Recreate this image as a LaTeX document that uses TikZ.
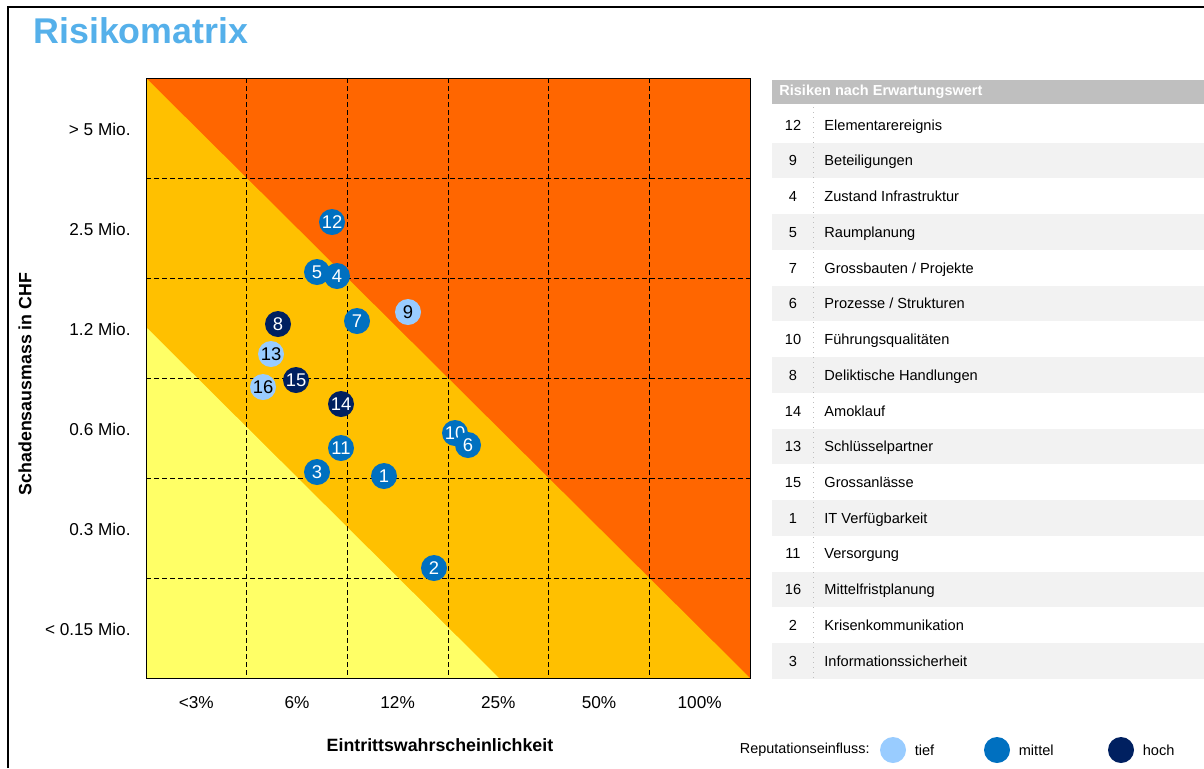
\documentclass[tikz,border=0pt]{standalone}
\usepackage{fontspec}
\setmainfont{Liberation Sans}
\usepackage{tikz}
\usetikzlibrary{positioning}

\definecolor{titleblue}{RGB}{85,176,234}
\definecolor{zonered}{RGB}{255,102,0}
\definecolor{zoneamber}{RGB}{255,192,0}
\definecolor{zoneyellow}{RGB}{255,255,102}
\definecolor{tiefblue}{RGB}{153,204,255}
\definecolor{mittelblue}{RGB}{0,112,192}
\definecolor{hochblue}{RGB}{0,32,96}
\definecolor{headgray}{RGB}{191,191,191}
\definecolor{rowgray}{RGB}{242,242,242}
\definecolor{sepgray}{RGB}{190,190,190}

\begin{document}
\begin{tikzpicture}[x=0.5pt, y=-0.5pt,
    bub/.style={circle, minimum size=13pt, inner sep=0pt, font=\fontsize{9.2}{10}\selectfont},
    tief/.style={bub, fill=tiefblue, text=black},
    mittel/.style={bub, fill=mittelblue, text=white},
    hoch/.style={bub, fill=hochblue, text=white},
    ticklabel/.style={inner sep=0pt, font=\fontsize{8.6}{10}\selectfont},
    axtitle/.style={inner sep=0pt, font=\bfseries\fontsize{8.9}{10}\selectfont},
    cell/.style={inner sep=0pt, font=\fontsize{7.3}{9}\selectfont},
    gridline/.style={dash pattern=on 2.5pt off 1.5pt, line width=0.5pt},
    ]
   \useasboundingbox (0,0) rectangle (1204,768);

   % Frame and title
   \draw[line width=1pt] (8,768) -- (8,6.5) -- (1204,6.5);
   \node[anchor=base west, inner sep=0pt, text=titleblue, font=\bfseries\fontsize{17.9}{20}\selectfont] (title) at (33,43) {Risikomatrix};

   % Matrix zones
   \fill[zonered] (146,78) rectangle (750,678);
   \fill[zoneamber] (146,78) -- (750,678) -- (146,678) -- cycle;
   \fill[zoneyellow] (146,327) -- (499,678) -- (146,678) -- cycle;
   \foreach \k in {1,...,5} {
      \draw[gridline] ({146+100.67*\k},78) -- ({146+100.67*\k},678);
      \draw[gridline] (146,{78+100*\k}) -- (750,{78+100*\k});
   }
   \draw[line width=0.5pt] (146,78) rectangle (750,678);

   % Axes
   \foreach \lab [count=\i from 0] in {{> 5 Mio.}, 2.5 Mio., 1.2 Mio., 0.6 Mio., 0.3 Mio., {< 0.15 Mio.}}
      \node[ticklabel, anchor=east] (y\i) at (131,{129+100*\i}) {\lab};
   \foreach \lab [count=\i from 0] in {<3\%, 6\%, 12\%, 25\%, 50\%, 100\%}
      \node[ticklabel] (x\i) at ({196.3+100.67*\i},703) {\lab};
   \node[axtitle] (xtitle) at (440,745) {Eintrittswahrscheinlichkeit};
   \node[axtitle, rotate=90] (ytitle) at (25,384) {Schadensausmass in CHF};

   % Risks
   \node[mittel] (b12) at (332,222) {12};
   \node[mittel] (b5) at (317,272) {5};
   \node[mittel] (b4) at (337,276) {4};
   \node[mittel] (b7) at (357,321) {7};
   \node[tief] (b9) at (408,312) {9};
   \node[hoch] (b8) at (278,324) {8};
   \node[tief] (b13) at (271,354) {13};
   \node[tief] (b16) at (263,387) {16};
   \node[hoch] (b15) at (296,380) {15};
   \node[hoch] (b14) at (341,404) {14};
   \node[mittel] (b10) at (455,433) {10};
   \node[mittel] (b6) at (468,445) {6};
   \node[mittel] (b11) at (341,448) {11};
   \node[mittel] (b3) at (317,472) {3};
   \node[mittel] (b1) at (384,476) {1};
   \node[mittel] (b2) at (434,568) {2};

   % Table
   \fill[headgray] (772,80) rectangle (1204,104);
   \node[anchor=west, inner sep=0pt, text=white, font=\bfseries\fontsize{7.25}{9}\selectfont] (head) at (779,92) {Risiken nach Erwartungswert};
   \foreach \n/\name [count=\i from 0] in {12/Elementarereignis, 9/Beteiligungen, 4/Zustand Infrastruktur, 5/Raumplanung, 7/{Grossbauten / Projekte}, 6/{Prozesse / Strukturen}, 10/Führungsqualitäten, 8/Deliktische Handlungen, 14/Amoklauf, 13/Schlüsselpartner, 15/Grossanlässe, 1/IT Verfügbarkeit, 11/Versorgung, 16/Mittelfristplanung, 2/Krisenkommunikation, 3/Informationssicherheit} {
      \pgfmathsetmacro\rowy{107+35.73*\i}
      \ifodd\i \fill[rowgray] (772,\rowy) rectangle (1204,\rowy+35.73); \fi
      \node[cell, anchor=base] (n\i) at (793,\rowy+23.2) {\n};
      \node[cell, anchor=base west] (t\i) at (824,\rowy+23.2) {\name};
   }
   \draw[sepgray, dotted, line width=0.5pt] (813,107) -- (813,679);

   % Legend
   \node[cell, anchor=east, font=\fontsize{7.2}{9}\selectfont] (legtitle) at (870,750) {Reputationseinfluss:};
   \node[bub, fill=tiefblue] (legtief) at (893,750) {};
   \node[cell, right=4pt of legtief] (ltief) {tief};
   \node[bub, fill=mittelblue] (legmittel) at (997,750) {};
   \node[cell, right=4pt of legmittel] (lmittel) {mittel};
   \node[bub, fill=hochblue] (leghoch) at (1121,750) {};
   \node[cell, right=4pt of leghoch] (lhoch) {hoch};

\end{tikzpicture}
\end{document}
